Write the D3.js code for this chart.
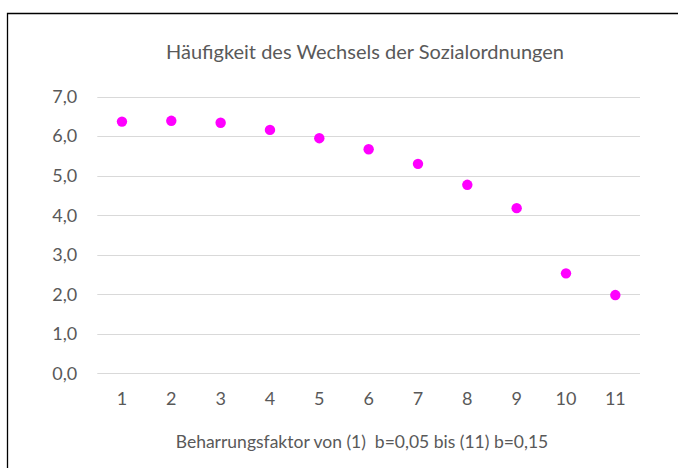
<!DOCTYPE html>
<html lang="de">
<head>
    <meta charset="UTF-8">
    <title>Häufigkeit des Wechsels der Sozialordnungen</title>
    <script src="https://d3js.org/d3.v7.min.js"></script>
    <style>
        body { margin: 0; background: #fff; }
        svg { display: block; font-family: Lato, 'Open Sans', sans-serif; }
        .grid line { stroke: #d9d9d9; stroke-width: 1; }
        .tick text { fill: #595959; }
    </style>
</head>
<body>
    <div id="chart"></div>
    <script>
        // data
        const categories = ['1', '2', '3', '4', '5', '6', '7', '8', '9', '10', '11'];
        const values = [6.37, 6.39, 6.34, 6.16, 5.95, 5.67, 5.30, 4.77, 4.18, 2.53, 1.98];
        const yTicks = [0, 1, 2, 3, 4, 5, 6, 7];

        const width = 678, height = 468;
        const margin = { top: 96.7, right: 38, bottom: 94.7, left: 97.3 };

        const svg = d3.select('#chart').append('svg')
            .attr('width', width)
            .attr('height', height);

        // chart frame (cut off at right and bottom)
        svg.append('path')
            .attr('d', `M7.5,${height} V13.5 H${width}`)
            .attr('fill', 'none')
            .attr('stroke', '#000')
            .attr('stroke-width', 1.3);

        const x = d3.scaleBand()
            .domain(categories)
            .range([margin.left, width - margin.right]);

        const y = d3.scaleLinear()
            .domain([0, 7])
            .range([height - margin.bottom, margin.top]);

        // horizontal gridlines
        svg.append('g')
            .attr('class', 'grid')
            .selectAll('line')
            .data(yTicks)
            .enter().append('line')
            .attr('x1', margin.left)
            .attr('x2', width - margin.right)
            .attr('y1', d => Math.round(y(d)) + 0.5)
            .attr('y2', d => Math.round(y(d)) + 0.5);

        // y axis labels
        const fmt = d => d3.format('.1f')(d).replace('.', ',');
        const yAxis = svg.append('g')
            .attr('transform', `translate(${margin.left - 20},0)`)
            .call(d3.axisLeft(y).tickValues(yTicks).tickFormat(fmt).tickSize(0).tickPadding(0));
        yAxis.select('.domain').remove();
        yAxis.selectAll('text').attr('font-size', 18).attr('font-family', 'Lato, sans-serif');

        // x axis labels
        const xAxis = svg.append('g')
            .attr('transform', `translate(0,${height - margin.bottom + 19})`)
            .call(d3.axisBottom(x).tickSize(0).tickPadding(0));
        xAxis.select('.domain').remove();
        xAxis.selectAll('text').attr('font-size', 18).attr('font-family', 'Lato, sans-serif');

        // points
        svg.append('g')
            .selectAll('circle')
            .data(values)
            .enter().append('circle')
            .attr('cx', (d, i) => x(categories[i]) + x.bandwidth() / 2)
            .attr('cy', d => y(d))
            .attr('r', 5.2)
            .attr('fill', '#ff00ff');

        // title
        svg.append('text')
            .attr('x', 365)
            .attr('y', 59)
            .attr('text-anchor', 'middle')
            .attr('font-size', 20)
            .attr('fill', '#595959')
            .text('Häufigkeit des Wechsels der Sozialordnungen');

        // x axis title
        svg.append('text')
            .attr('x', 362)
            .attr('y', 448)
            .attr('text-anchor', 'middle')
            .attr('font-size', 17.5)
            .attr('fill', '#595959')
            .style('white-space', 'pre')
            .text('Beharrungsfaktor von (1)  b=0,05 bis (11) b=0,15');
    </script>
</body>
</html>
